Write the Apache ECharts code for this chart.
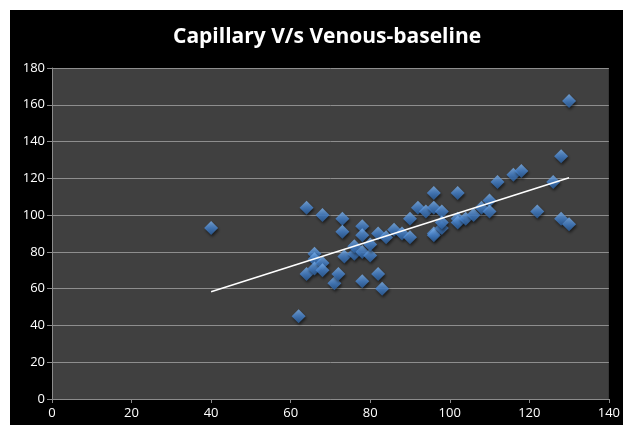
<!DOCTYPE html>
<html>
<head>
<meta charset="utf-8">
<script src="https://cdn.jsdelivr.net/npm/echarts@6/dist/echarts.min.js"></script>
<style>
html,body{margin:0;padding:0;background:#ffffff;width:623px;height:425px;overflow:hidden;}
#box{position:absolute;left:10px;top:10px;width:613px;height:415px;background:#000000;}
#chart{width:613px;height:415px;}
</style>
</head>
<body>
<div id="box"><div id="chart"></div></div>
<script>
var titleText = "Capillary V/s Venous-baseline";
var xTicks = [0, 20, 40, 60, 80, 100, 120, 140];
var yTicks = [0, 20, 40, 60, 80, 100, 120, 140, 160, 180];
var venous = [40,62,64,64,66,66,66,68,68,68,71,72,73,73,73.5,76,76,78,78,78,78,80,80,82,82,83,84,86,88,90,90,92,94,96,96,96,96,98,98,98,102,102,102,104,106,108,110,110,112,116,118,122,126,128,128,130,130];
var capillary = [93,45,104,68,79,76,71,100,74,70,63,68,98,91,77.5,79,83,94,89,80,64,78,84,90,68,60,88,92,90,98,88,104,102,112,104,90,89,102,93,96,112,98,96,98,100,104,108,102,118,122,124,102,118,132,98,95,162];
var trendX = [40, 130];
var trendY = [58.3, 120.3];

var pts = venous.map(function(v, i){ return [v, capillary[i]]; });
var trend = trendX.map(function(v, i){ return [v, trendY[i]]; });

var chart = echarts.init(document.getElementById('chart'));
chart.setOption({
  backgroundColor: '#000000',
  animation: false,
  title: {
    text: titleText, left: 158, top: 12,
    textStyle: {color: '#ffffff', fontSize: 21, fontWeight: 'bold', fontFamily: 'Open Sans'}
  },
  grid: {left: 42, top: 58, width: 559, height: 331, show: true, backgroundColor: '#404040', borderWidth: 0},
  xAxis: {
    type: 'value', min: 0, max: 140, interval: 20,
    axisLine: {show: true, onZero: false, lineStyle: {color: '#8c8c8c'}},
    axisTick: {show: true, length: 4, lineStyle: {color: '#8c8c8c'}},
    splitLine: {show: false},
    axisLabel: {color: '#ffffff', fontSize: 13, fontFamily: 'Open Sans', margin: 8}
  },
  yAxis: {
    type: 'value', min: 0, max: 180, interval: 20,
    axisLine: {show: true, onZero: false, lineStyle: {color: '#8c8c8c'}},
    axisTick: {show: true, length: 5, lineStyle: {color: '#8c8c8c'}},
    splitLine: {show: true, lineStyle: {color: '#8e8e8e', width: 1}},
    axisLabel: {color: '#ffffff', fontSize: 13, fontFamily: 'Open Sans', margin: 7}
  },
  series: [
    {
      type: 'scatter', data: pts, symbol: 'diamond', symbolSize: 14,
      itemStyle: {
        color: new echarts.graphic.LinearGradient(0, 0, 0, 1, [
          {offset: 0, color: '#7db3ee'},
          {offset: 0.5, color: '#4a88d4'},
          {offset: 1, color: '#2a5f9f'}
        ]),
        shadowColor: 'rgba(0,0,0,0.7)', shadowBlur: 3, shadowOffsetX: 1, shadowOffsetY: 2
      },
      z: 3
    },
    {
      type: 'line', data: trend, symbol: 'none', silent: true,
      lineStyle: {color: '#ffffff', width: 1.5}, z: 4
    }
  ]
});
</script>
</body>
</html>
